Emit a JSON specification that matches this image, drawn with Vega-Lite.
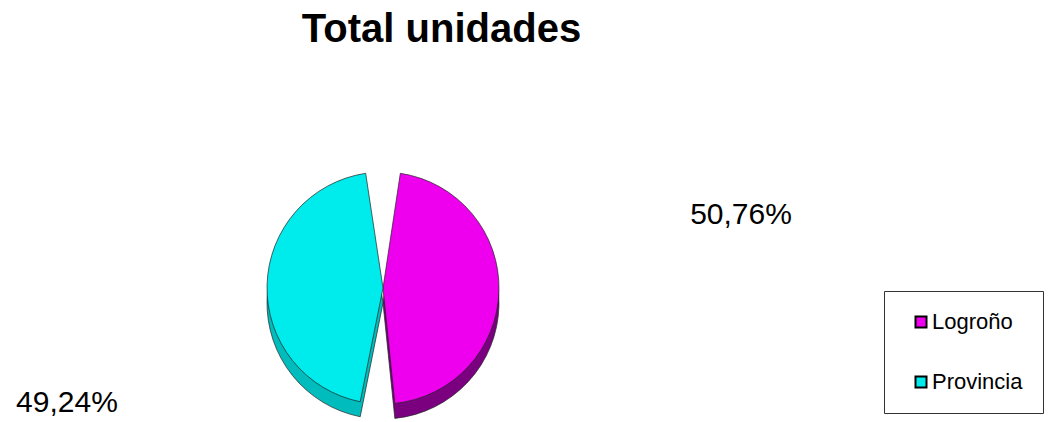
{
  "$schema": "https://vega.github.io/schema/vega-lite/v6.json",
  "autosize": "none",
  "width": 1049,
  "height": 362,
  "padding": {"top": 60, "left": 0, "right": 0, "bottom": 0},
  "background": "white",
  "title": {
    "text": "Total unidades",
    "font": "Liberation Sans",
    "fontSize": 40,
    "fontWeight": "bold",
    "color": "black",
    "anchor": "middle",
    "frame": "group",
    "dx": -83,
    "dy": -6
  },
  "data": {
    "values": [
      {"zona": "Logroño", "pct": 50.76, "label": "50,76%"},
      {"zona": "Provincia", "pct": 49.24, "label": "49,24%"}
    ]
  },
  "config": {"view": {"stroke": null}},
  "layer": [
    {
      "mark": {"type": "arc", "outerRadius": 116, "padAngle": 0.3, "x": 383, "y": 243, "stroke": "#222", "strokeWidth": 0.7},
      "encoding": {
        "theta": {"field": "pct", "type": "quantitative", "stack": true},
        "order": {"field": "zona"},
        "fill": {"field": "zona", "type": "nominal", "scale": {"domain": ["Logroño", "Provincia"], "range": ["#7a0080", "#00bcbc"]}, "legend": null}
      }
    },
    {
      "mark": {"type": "arc", "outerRadius": 116, "padAngle": 0.3, "x": 383, "y": 228, "stroke": "#222", "strokeWidth": 0.7},
      "encoding": {
        "theta": {"field": "pct", "type": "quantitative", "stack": true},
        "order": {"field": "zona"},
        "color": {
          "field": "zona", "type": "nominal",
          "scale": {"domain": ["Logroño", "Provincia"], "range": ["#ee00ee", "#00ebeb"]},
          "legend": {
            "title": null,
            "orient": "none",
            "legendX": 884,
            "legendY": 231,
            "padding": 20,
            "strokeColor": "#333",
            "fillColor": "white",
            "symbolType": "square",
            "symbolSize": 121,
            "symbolStrokeColor": "black",
            "symbolStrokeWidth": 2,
            "symbolOffset": 6,
            "labelOffset": 0,
            "labelFont": "Liberation Sans",
            "labelFontSize": 22,
            "labelColor": "black",
            "rowPadding": 38,
            "labelLimit": 300
          }
        }
      }
    },
    {
      "mark": {"type": "text", "radius": 350, "x": 404, "y": 249, "font": "Liberation Sans", "fontSize": 30, "color": "black", "align": "center", "baseline": "middle"},
      "encoding": {
        "theta": {"field": "pct", "type": "quantitative", "stack": true, "scale": {"range": [-0.297, 5.986]}},
        "order": {"field": "zona"},
        "text": {"field": "label"}
      }
    }
  ],
  "resolve": {"scale": {"theta": "independent", "fill": "independent"}}
}
